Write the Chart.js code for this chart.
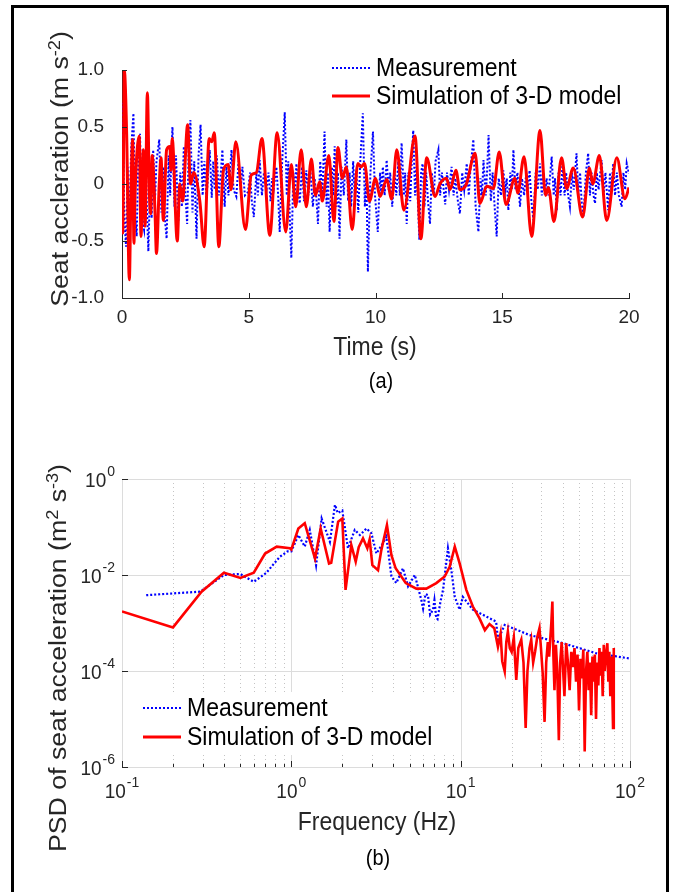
<!DOCTYPE html>
<html>
<head>
<meta charset="utf-8">
<script src="https://cdn.jsdelivr.net/npm/chart.js@4.4.1/dist/chart.umd.min.js"></script>
<style>
  html, body { margin: 0; padding: 0; background: #fff; }
  body { position: relative; width: 674px; height: 892px; overflow: hidden; font-family: "Liberation Sans", Arial, Helvetica, sans-serif; }
  canvas { position: absolute; left: 0; }
  #ca { top: 0; }
  #cb { top: 445px; }
  #frame { position: absolute; left: 11px; top: 5px; width: 658px; height: 900px; border: 3px solid #000; box-sizing: border-box; }
  .t { position: absolute; white-space: nowrap; color: #262626; font-size: 23px; transform: translate(-50%, -50%) scaleY(1.12); line-height: 1; }
  .yt { transform: translate(-50%, -50%) rotate(-90deg) scaleX(1.16); }
  .cap { font-size: 20px; color: #000; }
  sup { font-size: 0.68em; vertical-align: 0.5em; line-height: 0; }
</style>
</head>
<body>
<div id="frame"></div>
<canvas id="ca" width="674" height="445"></canvas>
<canvas id="cb" width="674" height="447"></canvas>

<div class="t yt" style="left:60px; top:169px">Seat accleration (m s<sup>-2</sup>)</div>
<div class="t" style="left:375px; top:347px">Time (s)</div>
<div class="t cap" style="left:381px; top:380px">(a)</div>

<div class="t yt" style="left:58px; top:658px">PSD of seat acceleration (m<sup>2</sup> s<sup>-3</sup>)</div>
<div class="t" style="left:377px; top:822px">Frequency (Hz)</div>
<div class="t cap" style="left:378px; top:857px">(b)</div>

<script>
const FONT = '"Liberation Sans", Arial, Helvetica, sans-serif'
const AXIS = '#262626'
const seriesNames = ['Measurement', 'Simulation of 3-D model']

// (a) seat acceleration time history, [time s, acceleration m/s2]
const timeTicks = [0, 5, 10, 15, 20]
const accTicks = [-1, -0.5, 0, 0.5, 1]

const measAcc = [
  [0, 0], [0.03, 0.71], [0.09, -0.3], [0.16, -0.55], [0.22, 0.15], [0.28, -0.45], [0.36, 0.3], [0.45, 0.62],
  [0.52, -0.3], [0.58, -0.46], [0.64, 0.2], [0.71, 0.44], [0.78, -0.3], [0.87, -0.4], [0.93, 0.3], [0.98, -0.2],
  [1.04, -0.59], [1.12, 0.1], [1.17, -0.3], [1.23, 0.3], [1.3, -0.15], [1.36, 0.2], [1.47, 0.39], [1.55, -0.25],
  [1.62, 0.15], [1.69, -0.3], [1.76, -0.48], [1.84, 0.25], [1.9, -0.1], [1.99, 0.5], [2.07, -0.2], [2.13, 0.25],
  [2.22, -0.33], [2.3, 0.1], [2.36, -0.2], [2.44, 0.33], [2.5, -0.1], [2.57, -0.35], [2.63, 0.3], [2.7, 0.56],
  [2.78, -0.25], [2.85, 0.2], [2.94, -0.48], [3.02, 0.25], [3.1, 0.52], [3.18, -0.1], [3.25, 0.2], [3.33, -0.14],
  [3.4, 0.1], [3.46, 0.3], [3.54, -0.12], [3.6, 0.2], [3.66, -0.05], [3.74, 0.25], [3.82, -0.1], [3.9, 0.1],
  [3.96, 0.3], [4.05, -0.2], [4.12, 0.15], [4.2, -0.1], [4.32, 0.3], [4.4, -0.05], [4.51, -0.11], [4.6, 0.2],
  [4.68, -0.05], [4.75, 0.15], [4.85, -0.1], [4.97, -0.07], [5.05, 0.1], [5.12, -0.15], [5.2, -0.29], [5.3, 0.1],
  [5.36, -0.1], [5.43, 0.21], [5.52, -0.1], [5.6, 0.1], [5.7, -0.05], [5.78, 0.1], [5.86, -0.15], [5.92, 0.05],
  [5.98, -0.05], [6.09, 0.15], [6.16, -0.1], [6.22, -0.42], [6.32, 0.2], [6.42, 0.63], [6.5, -0.1], [6.56, 0.2],
  [6.62, -0.3], [6.68, -0.65], [6.76, 0.1], [6.82, -0.1], [6.88, 0.18], [6.95, -0.05], [7.01, -0.17], [7.1, 0.15],
  [7.18, -0.15], [7.27, 0.12], [7.35, -0.1], [7.42, 0.15], [7.53, -0.2], [7.6, 0.05], [7.66, -0.1], [7.73, -0.35],
  [7.82, 0.2], [7.9, -0.1], [7.99, 0.46], [8.07, -0.2], [8.12, 0.1], [8.19, -0.42], [8.28, 0.15], [8.33, -0.1],
  [8.39, 0.33], [8.46, -0.2], [8.52, 0.1], [8.58, -0.48], [8.66, 0.15], [8.75, -0.1], [8.85, 0.39], [8.92, -0.15],
  [8.98, 0.1], [9.04, -0.2], [9.12, 0.2], [9.18, -0.1], [9.24, 0.12], [9.32, -0.25], [9.4, 0.2], [9.5, 0.62],
  [9.58, -0.2], [9.64, 0.1], [9.7, -0.77], [9.8, 0.1], [9.9, 0.46], [9.98, -0.1], [10.09, -0.42], [10.18, 0.1],
  [10.23, -0.1], [10.29, 0.15], [10.36, -0.1], [10.44, 0.21], [10.52, -0.05], [10.58, 0.1], [10.66, -0.2], [10.75, 0.1],
  [10.82, -0.1], [10.9, 0.2], [10.96, -0.1], [11.03, 0.36], [11.12, -0.1], [11.17, 0.1], [11.23, -0.35], [11.3, 0.1],
  [11.37, -0.15], [11.43, 0.2], [11.49, 0.47], [11.56, -0.1], [11.62, 0.15], [11.68, -0.2], [11.73, -0.49], [11.8, 0.1],
  [11.86, 0.18], [11.93, -0.2], [12.0, 0.1], [12.07, -0.15], [12.15, -0.35], [12.22, 0.1], [12.3, -0.1], [12.37, 0.2],
  [12.48, 0.3], [12.55, -0.1], [12.62, 0.1], [12.75, -0.18], [12.82, 0.1], [12.9, -0.05], [13.0, 0.15], [13.08, -0.1],
  [13.15, 0.05], [13.25, -0.15], [13.33, -0.26], [13.42, 0.1], [13.5, -0.05], [13.6, 0.18], [13.68, -0.1], [13.75, 0.15],
  [13.86, 0.39], [13.95, -0.2], [14.06, -0.42], [14.14, 0.05], [14.2, -0.1], [14.26, 0.21], [14.35, -0.1], [14.4, 0.1],
  [14.46, 0.43], [14.55, -0.15], [14.62, 0.1], [14.7, -0.2], [14.78, -0.46], [14.86, 0.05], [14.95, -0.1], [15.04, 0.12],
  [15.12, -0.05], [15.18, 0.05], [15.24, -0.23], [15.32, 0.1], [15.38, -0.05], [15.44, 0.3], [15.52, -0.05], [15.6, 0.1],
  [15.7, -0.2], [15.78, 0.05], [15.86, -0.1], [15.95, 0.1], [16.0, -0.05], [16.08, 0.12], [16.15, -0.15], [16.23, -0.32],
  [16.32, 0.1], [16.4, -0.05], [16.49, 0.18], [16.56, -0.1], [16.62, 0.1], [16.68, -0.1], [16.75, 0.05], [16.82, -0.1],
  [16.95, 0.24], [17.03, -0.1], [17.08, 0.05], [17.15, -0.23], [17.22, 0.1], [17.3, -0.1], [17.38, 0.18], [17.46, -0.1],
  [17.52, 0.1], [17.6, -0.1], [17.67, -0.2], [17.75, 0.1], [17.82, -0.05], [17.93, 0.27], [18.0, -0.1], [18.07, 0.1],
  [18.13, -0.15], [18.2, -0.29], [18.3, 0.1], [18.39, 0.27], [18.46, -0.1], [18.52, 0.1], [18.6, -0.1], [18.66, -0.17],
  [18.73, 0.1], [18.8, -0.05], [18.92, 0.21], [19.0, -0.1], [19.07, 0.1], [19.18, -0.23], [19.25, 0.1], [19.3, -0.05],
  [19.38, 0.18], [19.45, -0.1], [19.52, 0.1], [19.6, -0.1], [19.71, -0.2], [19.78, 0.1], [19.85, -0.05], [19.91, 0.18],
  [20.0, 0.09]
]

const simAcc = [
  [0, 0], [0.03, -0.43], [0.09, 1.0], [0.18, 0.47], [0.29, -0.84], [0.35, -0.11], [0.42, 0.39], [0.47, -0.52],
  [0.52, -0.05], [0.68, 0.42], [0.75, -0.46], [0.84, 0.3], [0.91, -0.37], [1.0, 0.8], [1.08, -0.08], [1.13, -0.26],
  [1.19, 0.25], [1.3, -0.23], [1.36, -0.61], [1.47, 0], [1.54, 0.23], [1.63, -0.32], [1.76, 0.3], [1.89, 0.33],
  [1.93, 0.12], [1.98, 0.4], [2.18, -0.5], [2.28, 0], [2.39, -0.15], [2.59, 0.52], [2.7, 0.0], [2.83, 0.1],
  [3.07, -0.15], [3.24, -0.55], [3.44, 0.4], [3.54, 0.37], [3.64, 0.45], [3.82, -0.55], [4.0, 0.12], [4.19, 0.17],
  [4.3, -0.05], [4.49, 0.37], [4.87, -0.4], [5.1, 0.08], [5.3, 0.1], [5.52, 0.4], [5.83, -0.45], [6.12, 0.45],
  [6.46, -0.42], [6.68, 0.17], [6.85, -0.2], [7.07, 0.3], [7.27, -0.2], [7.47, 0.22], [7.63, -0.1], [7.8, 0.02],
  [7.9, -0.15], [8.16, 0.25], [8.36, -0.33], [8.52, 0.32], [8.69, 0.05], [8.85, 0.15], [9.08, -0.4], [9.3, 0.18],
  [9.43, 0.15], [9.57, 0.18], [9.76, -0.15], [10.0, 0.05], [10.18, -0.11], [10.44, 0.04], [10.64, -0.13], [10.84, 0.3],
  [11.12, -0.23], [11.56, 0.42], [11.79, -0.48], [12.02, 0.23], [12.35, -0.11], [12.54, 0], [12.8, 0.05], [12.94, -0.05],
  [13.17, 0.12], [13.33, -0.05], [13.57, -0.01], [13.93, 0.27], [14.12, -0.17], [14.39, -0.02], [14.65, -0.04], [14.88, 0.28],
  [15.15, -0.18], [15.5, 0.05], [15.61, -0.08], [15.86, 0.24], [16.16, -0.46], [16.49, 0.47], [16.71, -0.1], [16.82, -0.03],
  [17.04, -0.33], [17.34, 0.23], [17.54, -0.04], [17.8, 0.14], [18.17, -0.29], [18.44, 0.14], [18.57, 0], [18.83, 0.25],
  [19.12, -0.32], [19.52, 0.23], [19.84, -0.13], [20.0, -0.03]
]

// (b) PSD of seat acceleration, [frequency Hz, PSD m2/s3]
const freqTicks = [0.1, 1, 10, 100]
const psdTicks = [1e-6, 1e-4, 1e-2, 1]

const measPsd = [
  [0.139, 0.0038], [0.29, 0.0045], [0.4, 0.01], [0.5, 0.0105], [0.6, 0.0072], [0.71, 0.011], [0.855, 0.024], [0.95, 0.031],
  [1.0, 0.031], [1.1, 0.068], [1.2, 0.039], [1.285, 0.087], [1.4, 0.016], [1.51, 0.15], [1.69, 0.049], [1.81, 0.29],
  [1.88, 0.195], [2.0, 0.22], [2.16, 0.036], [2.37, 0.087], [2.54, 0.068], [2.78, 0.093], [2.97, 0.074], [3.18, 0.028],
  [3.48, 0.046], [3.64, 0.063], [3.9, 0.0093], [4.17, 0.0068], [4.56, 0.0138], [4.89, 0.0058], [5.36, 0.01], [5.86, 0.003],
  [6.0, 0.002], [6.2, 0.004], [6.41, 0.0038], [6.6, 0.0015], [6.87, 0.0019], [7.0, 0.003], [7.18, 0.00126], [7.3, 0.0012],
  [7.6, 0.0028], [7.87, 0.0049], [8.41, 0.036], [8.81, 0.0126], [9.23, 0.0035], [9.86, 0.0019], [10.3, 0.0035], [11.8, 0.0019],
  [16.2, 0.00107], [16.6, 0.00045], [18.2, 0.00091], [25.5, 0.00056], [40.2, 0.00038], [63.1, 0.000234], [100, 0.000182]
]

const simPsd = [
  [0.1, 0.00174], [0.2, 0.00081], [0.295, 0.0045], [0.4, 0.0112], [0.5, 0.0087], [0.6, 0.0112], [0.7, 0.028], [0.82, 0.039],
  [0.98, 0.036], [1.0, 0.034], [1.1, 0.093], [1.2, 0.12], [1.38, 0.022], [1.49, 0.093], [1.67, 0.0174], [1.72, 0.018],
  [1.89, 0.129], [2.0, 0.15], [2.09, 0.0049], [2.26, 0.042], [2.4, 0.019], [2.5, 0.038], [2.65, 0.058], [2.81, 0.036],
  [2.9, 0.055], [3.01, 0.016], [3.25, 0.0126], [3.4, 0.033], [3.67, 0.11], [3.9, 0.026], [4.13, 0.0138], [4.74, 0.0068],
  [5.47, 0.0052], [6.27, 0.0052], [7.18, 0.0068], [8.05, 0.0093], [8.61, 0.0148], [9.23, 0.039], [9.86, 0.0174], [10.8, 0.0049],
  [11.8, 0.0022], [12.9, 0.00126], [13.9, 0.00071], [14.8, 0.00095], [15.8, 0.00078], [16.6, 0.00032], [17.2, 0.0006], [17.6, 0.00016],
  [18.2, 0.000098], [18.6, 0.0004], [19.0, 0.00066], [19.5, 0.0003], [20.0, 0.00025], [20.6, 0.0005], [21.3, 0.000065], [21.9, 0.0003],
  [22.8, 0.00045], [23.5, 0.00015], [24.2, 0.0000065], [24.8, 0.0001], [25.5, 0.0003], [26.1, 0.00045], [26.8, 0.00015], [27.5, 0.00025],
  [28.3, 0.0005], [29.2, 0.00078], [29.8, 0.0003], [30.5, 0.00009], [31.3, 0.0000087], [32.0, 0.00015], [32.7, 0.0004], [33.3, 0.0002],
  [33.8, 0.00045], [34.3, 0.001], [34.8, 0.0028], [35.3, 0.0002], [35.8, 0.00004], [36.5, 0.00035], [37.2, 0.0001], [38.0, 0.0000036],
  [38.7, 0.00015], [39.5, 0.0004], [40.3, 0.0001], [41.0, 0.00003], [42.0, 0.00038], [43.0, 0.00015], [44.0, 0.00004], [45.0, 0.00025],
  [46.0, 0.00012], [47.0, 0.0003], [48.0, 0.00006], [49.0, 0.00022], [50.0, 0.000015], [51.0, 0.00018], [52.0, 0.00007], [53.0, 0.00028],
  [54.0, 0.0000021], [55.0, 0.0001], [56.0, 0.00025], [57.0, 0.00004], [58.0, 0.00015], [59.0, 0.000012], [60.0, 0.0002], [61.0, 0.00006],
  [62.0, 0.00022], [63.0, 0.00001], [64.0, 0.00015], [65.0, 0.00005], [66.0, 0.0003], [67.0, 0.00008], [68.0, 0.00025], [69.0, 0.00003],
  [70.0, 0.00035], [71.0, 0.0001], [72.0, 0.0002], [73.5, 0.00038], [74.5, 0.00006], [75.5, 0.00025], [76.5, 0.00003], [77.5, 0.0002],
  [78.5, 0.00005], [79.4, 0.0000065], [80.0, 0.0003], [80.4, 0.00025]
]

const pts = arr => arr.map(p => ({ x: p[0], y: p[1] }))

// ticks pointing into the plot, like the MATLAB axes
const inTicks = {
  id: 'inTicks',
  afterDatasetsDraw(chart, args, o) {
    const { ctx, chartArea: a, scales } = chart
    ctx.save()
    ctx.strokeStyle = AXIS
    ctx.lineWidth = 1
    ctx.beginPath()
    for (const t of o.x) {
      const px = Math.round(scales.x.getPixelForValue(t.v)) + 0.5
      ctx.moveTo(px, a.bottom)
      ctx.lineTo(px, a.bottom - t.len)
    }
    for (const t of o.y) {
      const py = Math.round(scales.y.getPixelForValue(t.v)) + 0.5
      ctx.moveTo(a.left, py)
      ctx.lineTo(a.left + t.len, py)
    }
    ctx.stroke()
    ctx.restore()
  }
}

const legendBox = {
  id: 'legendBox',
  afterDraw(chart, args, o) {
    const ctx = chart.ctx
    ctx.save()
    if (o.box) {
      ctx.fillStyle = '#fff'
      ctx.fillRect(o.box[0], o.box[1], o.box[2], o.box[3])
    }
    const styles = [
      { color: '#0000ff', width: 2, dash: [2, 2] },
      { color: '#ff0000', width: 3, dash: [] }
    ]
    seriesNames.forEach((name, i) => {
      const y = o.y + i * o.gap
      ctx.strokeStyle = styles[i].color
      ctx.lineWidth = styles[i].width
      ctx.setLineDash(styles[i].dash)
      ctx.beginPath()
      ctx.moveTo(o.x, y)
      ctx.lineTo(o.x + 38, y)
      ctx.stroke()
      ctx.setLineDash([])
      ctx.save()
      ctx.translate(o.x + 44, y + 1)
      ctx.scale(1, 1.12)
      ctx.fillStyle = '#000'
      ctx.font = '23px ' + FONT
      ctx.textBaseline = 'middle'
      ctx.textAlign = 'left'
      ctx.fillText(name, 0, 0)
      ctx.restore()
    })
    ctx.restore()
  }
}

// log grid, MATLAB style: solid major lines, dotted minor ones
const logGrid = {
  id: 'logGrid',
  beforeDatasetsDraw(chart) {
    const { ctx, chartArea: a, scales: { x, y } } = chart
    ctx.save()
    ctx.lineWidth = 1
    ctx.strokeStyle = '#c4c4c4'
    ctx.setLineDash([1, 3])
    ctx.beginPath()
    for (let i = 0; i < freqTicks.length - 1; i++) {
      for (let k = 2; k <= 9; k++) {
        const px = Math.round(x.getPixelForValue(freqTicks[i] * k)) + 0.5
        ctx.moveTo(px, a.top)
        ctx.lineTo(px, a.bottom)
      }
    }
    ctx.stroke()
    ctx.setLineDash([])
    ctx.strokeStyle = '#dcdcdc'
    ctx.beginPath()
    for (const f of freqTicks) {
      const px = Math.round(x.getPixelForValue(f)) + 0.5
      ctx.moveTo(px, a.top)
      ctx.lineTo(px, a.bottom)
    }
    for (const p of psdTicks) {
      const py = Math.round(y.getPixelForValue(p)) + 0.5
      ctx.moveTo(a.left, py)
      ctx.lineTo(a.right, py)
    }
    ctx.stroke()
    ctx.restore()
  }
}

// 10^n labels with a raised exponent
function powLabel(ctx, n, x, y, align) {
  const base = '19px ' + FONT, sup = '14px ' + FONT
  const e = String(n)
  ctx.font = base
  const wb = ctx.measureText('10').width
  ctx.font = sup
  const we = ctx.measureText(e).width
  const w = wb + 1 + we
  const x0 = align === 'right' ? x - w : x - w / 2
  ctx.save()
  ctx.translate(x0, y)
  ctx.scale(1, 1.1)
  ctx.textAlign = 'left'
  ctx.textBaseline = 'alphabetic'
  ctx.font = base
  ctx.fillText('10', 0, 7)
  ctx.font = sup
  ctx.fillText(e, wb + 1, -3)
  ctx.restore()
}

const logLabels = {
  id: 'logLabels',
  afterDraw(chart) {
    const { ctx, chartArea: a, scales: { x, y } } = chart
    ctx.save()
    ctx.fillStyle = AXIS
    for (const f of freqTicks) powLabel(ctx, Math.round(Math.log10(f)), x.getPixelForValue(f), a.bottom + 23, 'center')
    for (const p of psdTicks) powLabel(ctx, Math.round(Math.log10(p)), a.left - 7, y.getPixelForValue(p), 'right')
    ctx.restore()
  }
}

const tickFont = { family: FONT, size: 19 }

new Chart(document.getElementById('ca'), {
  type: 'line',
  data: {
    datasets: [{
      label: seriesNames[1],
      data: pts(simAcc),
      borderColor: '#ff0000',
      borderWidth: 3,
      pointRadius: 0,
      cubicInterpolationMode: 'monotone'
    }, {
      label: seriesNames[0],
      data: pts(measAcc),
      borderColor: '#0000ff',
      borderWidth: 2,
      borderDash: [2, 2],
      pointRadius: 0
    }]
  },
  options: {
    responsive: false,
    animation: false,
    events: [],
    layout: { padding: { top: 70, right: 45, bottom: 0, left: 0 } },
    plugins: {
      legend: { display: false },
      tooltip: { enabled: false },
      inTicks: {
        x: timeTicks.map(v => ({ v: v, len: 5 })),
        y: accTicks.map(v => ({ v: v, len: 5 }))
      },
      legendBox: { x: 332, y: 68, gap: 28 }
    },
    scales: {
      x: {
        type: 'linear', min: 0, max: 20,
        grid: { display: false },
        border: { color: AXIS, width: 1 },
        afterBuildTicks: s => { s.ticks = timeTicks.map(v => ({ value: v })) },
        ticks: { font: tickFont, color: AXIS, padding: 0, maxRotation: 0, autoSkip: false },
        afterFit: s => { s.height = 147 }
      },
      y: {
        min: -1, max: 1,
        grid: { display: false },
        border: { color: AXIS, width: 1 },
        afterBuildTicks: s => { s.ticks = accTicks.map(v => ({ value: v })) },
        ticks: { font: tickFont, color: AXIS, padding: 10, callback: v => v === 0 ? '0' : v.toFixed(1) },
        afterFit: s => { s.width = 122 }
      }
    }
  },
  plugins: [inTicks, legendBox]
})

const minorF = []
for (let i = 0; i < freqTicks.length - 1; i++) for (let k = 2; k <= 9; k++) minorF.push({ v: freqTicks[i] * k, len: 3 })

new Chart(document.getElementById('cb'), {
  type: 'line',
  data: {
    datasets: [{
      label: seriesNames[1],
      data: pts(simPsd),
      borderColor: '#ff0000',
      borderWidth: 2.6,
      pointRadius: 0
    }, {
      label: seriesNames[0],
      data: pts(measPsd),
      borderColor: '#0000ff',
      borderWidth: 2.2,
      borderDash: [2, 2],
      pointRadius: 0
    }]
  },
  options: {
    responsive: false,
    animation: false,
    events: [],
    layout: { padding: { top: 34, right: 44, bottom: 0, left: 0 } },
    plugins: {
      legend: { display: false },
      tooltip: { enabled: false },
      inTicks: {
        x: freqTicks.map(v => ({ v: v, len: 6 })).concat(minorF),
        y: psdTicks.map(v => ({ v: v, len: 6 }))
      },
      legendBox: { x: 143, y: 263, gap: 29, box: [124, 247, 330, 63] }
    },
    scales: {
      x: {
        type: 'logarithmic', min: 0.1, max: 100,
        grid: { display: false },
        border: { color: AXIS, width: 1 },
        ticks: { display: false },
        afterFit: s => { s.height = 125 }
      },
      y: {
        type: 'logarithmic', min: 1e-6, max: 1,
        grid: { display: false },
        border: { color: AXIS, width: 1 },
        ticks: { display: false },
        afterFit: s => { s.width = 122 }
      }
    }
  },
  plugins: [logGrid, inTicks, legendBox, logLabels]
})
</script>
</body>
</html>
